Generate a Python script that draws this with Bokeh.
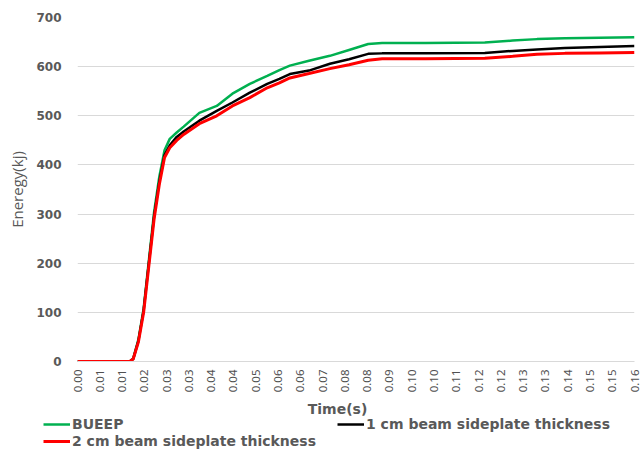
from bokeh.plotting import figure
from bokeh.models import Range1d, FixedTicker, Legend, LegendItem, Label
from bokeh.embed import file_html
from bokeh.resources import INLINE

# Time samples (s) and dissipated energy (kJ) for the three connection variants
time_s = [0.0000, 0.0100, 0.0150, 0.0160, 0.0175, 0.0190, 0.0205, 0.0220, 0.0235,
          0.0250, 0.0265, 0.0285, 0.0305, 0.0350, 0.0400, 0.0445, 0.0495, 0.0545,
          0.0580, 0.0610, 0.0665, 0.0725, 0.0780, 0.0835, 0.0875, 0.1000, 0.1170,
          0.1250, 0.1320, 0.1400, 0.1500, 0.1600]
bueep = [0, 0, 0, 6, 45, 108, 206, 304, 376, 430, 453, 466, 478, 506, 520, 545,
         565, 581, 593, 602, 612, 622, 634, 646, 648, 648, 649, 653, 656, 658, 659, 660]
side_1cm = [0, 0, 0, 5, 42, 104, 200, 296, 366, 420, 440, 457, 468, 490, 510, 527,
            547, 565, 575, 585, 592, 606, 615, 626, 627, 627, 628, 632, 635, 638, 640, 642]
side_2cm = [0, 0, 0, 5, 40, 100, 195, 290, 360, 415, 435, 450, 462, 484, 500, 520,
            537, 557, 567, 577, 586, 596, 604, 613, 616, 616, 617, 621, 625, 627, 628, 629]

series = [bueep, side_1cm, side_2cm]
series_names = ["BUEEP", "1 cm beam sideplate thickness", "2 cm beam sideplate thickness"]
series_colors = ["#00b050", "#000000", "#ff0000"]
series_widths = [2.5, 2.5, 3]

# Category-style time ticks
tick_times = [0.0000, 0.0064, 0.0128, 0.0192, 0.0256, 0.0320, 0.0384, 0.0448, 0.0512,
              0.0576, 0.0640, 0.0704, 0.0768, 0.0832, 0.0896, 0.0960, 0.1024, 0.1088,
              0.1152, 0.1216, 0.1280, 0.1344, 0.1408, 0.1472, 0.1536, 0.1600]
tick_labels = ["0.00", "0.01", "0.01", "0.02", "0.03", "0.03", "0.04", "0.04", "0.05",
               "0.06", "0.06", "0.07", "0.08", "0.08", "0.09", "0.10", "0.10", "0.11",
               "0.12", "0.12", "0.13", "0.13", "0.14", "0.15", "0.15", "0.16"]
y_ticks = [0, 100, 200, 300, 400, 500, 600, 700]

GRAY = "#595959"

# ---- main chart ----
p = figure(width=641, height=400, output_backend="svg", toolbar_location=None,
           x_range=Range1d(0, 0.16), y_range=Range1d(0, 700),
           min_border_left=77, min_border_right=7, min_border_top=17,
           min_border_bottom=39)
p.outline_line_color = None

p.xaxis.ticker = FixedTicker(ticks=tick_times)
p.xaxis.major_label_overrides = {t: l for t, l in zip(tick_times, tick_labels)}
p.xaxis.major_label_orientation = 1.5707963
p.xaxis.major_label_text_font = "Noto Sans"
p.xaxis.major_label_text_font_size = "11.5px"
p.xaxis.major_label_text_color = "#505050"
p.xaxis.major_label_standoff = 8
p.xaxis.major_tick_out = 0
p.xaxis.major_tick_in = 0
p.xaxis.minor_tick_line_color = None
p.xaxis.axis_line_color = "#d9d9d9"
p.xgrid.grid_line_color = None

p.yaxis.ticker = FixedTicker(ticks=y_ticks)
p.yaxis.major_label_text_font = "DejaVu Sans"
p.yaxis.major_label_text_font_style = "bold"
p.yaxis.major_label_text_font_size = "12px"
p.yaxis.major_label_text_color = GRAY
p.yaxis.major_label_standoff = 16
p.yaxis.major_tick_out = 0
p.yaxis.major_tick_in = 0
p.yaxis.minor_tick_line_color = None
p.yaxis.axis_line_color = None
p.yaxis.axis_label = "Eneregy(kj)"
p.yaxis.axis_label_text_font = "Open Sans"
p.yaxis.axis_label_text_font_style = "normal"
p.yaxis.axis_label_text_font_size = "15px"
p.yaxis.axis_label_text_color = GRAY
p.yaxis.axis_label_standoff = 6
p.ygrid.grid_line_color = "#d9d9d9"

for ys, c, w in zip(series, series_colors, series_widths):
    p.line(time_s, ys, line_color=c, line_width=w)

# ---- footer strip: x axis title and legend ----
# same series drawn again, outside the visible range, only to feed the legend keys
f = figure(width=641, height=49, output_backend="svg", toolbar_location=None,
           x_range=Range1d(0, 1), y_range=Range1d(-2, -1),
           x_axis_type=None, y_axis_type=None,
           min_border_left=0, min_border_right=0, min_border_top=0, min_border_bottom=0)
f.outline_line_color = None
f.grid.visible = False

keys = [f.line(time_s, ys, line_color=c, line_width=w)
        for ys, c, w in zip(series, series_colors, series_widths)]

f.add_layout(Label(x=337, y=41, x_units="screen", y_units="screen", text="Time(s)",
                   text_font="DejaVu Sans", text_font_style="bold", text_font_size="14px",
                   text_color=GRAY, text_align="center", text_baseline="middle"))

legend = Legend(items=[LegendItem(label=n, renderers=[r]) for n, r in zip(series_names, keys)],
                location=(43, 0), ncols=2, orientation="horizontal",
                padding=0, margin=0, spacing=1, label_standoff=2,
                glyph_width=27, glyph_height=16, label_height=16, label_width=264,
                border_line_alpha=0, background_fill_alpha=0,
                label_text_font="DejaVu Sans", label_text_font_style="bold",
                label_text_font_size="14px", label_text_color=GRAY)
f.add_layout(legend, "center")

open("out.html", "w").write(file_html([p, f], INLINE))
